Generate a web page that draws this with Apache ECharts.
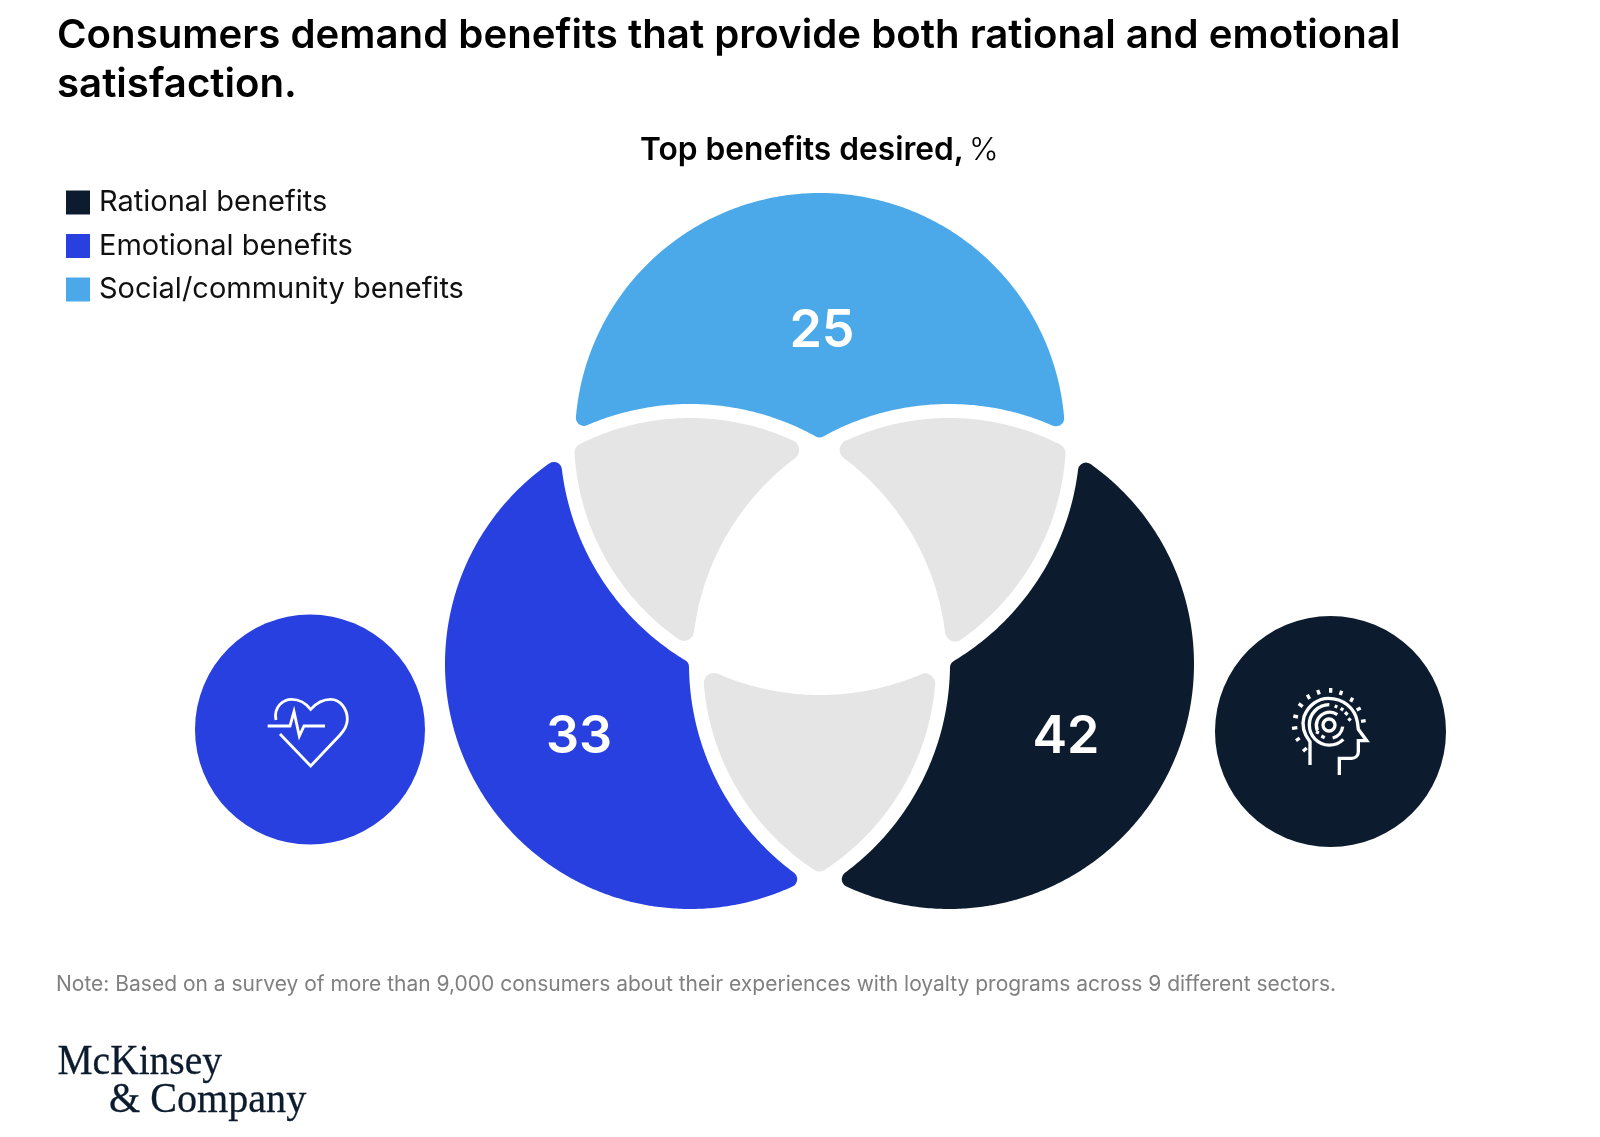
<!DOCTYPE html>
<html><head><meta charset="utf-8">
<style>html,body{margin:0;padding:0;background:#fff}#c{width:1600px;height:1137px}</style>
<script src="https://cdn.jsdelivr.net/npm/echarts@6/dist/echarts.min.js"></script>
</head><body><div id="c"></div>
<script>
// ---- data ----
const benefitNames = ['Rational benefits', 'Emotional benefits', 'Social/community benefits'];
const benefitValues = [42, 33, 25];
const benefitColors = ['#0C1C2E', '#2740DF', '#4BA9EA'];
const overlapColor = '#E5E5E5';

const titleText = 'Consumers demand benefits that provide both rational and emotional\nsatisfaction.';
const subtitleBold = 'Top benefits desired,';
const subtitleUnit = '%';
const noteText = 'Note: Based on a survey of more than 9,000 consumers about their experiences with loyalty programs across 9 different sectors.';
const logoLine1 = 'McKinsey';
const logoLine2 = '& Company';

// ---- Venn layout (page units) ----
const R = 245, EXCL = 260, EXCL_GRAY = 257, CORNER = 8, CORNER_GRAY = 10;
const circles = [{x: 949, y: 664}, {x: 690, y: 664}, {x: 820, y: 438}]; // rational, emotional, social
const labelPos = [[1066, 737], [579, 737], [822, 331.5]];
const iconDisc = [{x: 1330.5, y: 731.5, r: 115.5, color: 0}, {x: 310, y: 729.5, r: 115, color: 1}];

function regionPolygon(inside, outside, excl, corner) {
  const cons = [];
  inside.forEach(i => cons.push({x: circles[i].x, y: circles[i].y, r: R - corner + (excl === EXCL ? 0 : 1), inn: true}));
  outside.forEach(i => cons.push({x: circles[i].x, y: circles[i].y, r: excl + corner, inn: false}));
  const ok = (p, skip) => cons.every((c, k) => {
    if (k === skip) return true;
    const d = Math.hypot(p[0] - c.x, p[1] - c.y);
    return c.inn ? d < c.r : d > c.r;
  });
  const arcs = [];
  cons.forEach((c, i) => {
    const ang = [];
    cons.forEach((o, j) => {
      if (i === j) return;
      const dx = o.x - c.x, dy = o.y - c.y, d = Math.hypot(dx, dy);
      const a = (c.r * c.r - o.r * o.r + d * d) / (2 * d);
      if (Math.abs(a) > c.r) return;
      const b = Math.atan2(dy, dx), de = Math.acos(a / c.r);
      ang.push(b - de, b + de);
    });
    const norm = ang.map(a => ((a % (2 * Math.PI)) + 2 * Math.PI) % (2 * Math.PI)).sort((a, b) => a - b);
    norm.forEach((a0, k) => {
      let a1 = k + 1 < norm.length ? norm[k + 1] : norm[0] + 2 * Math.PI;
      const m = (a0 + a1) / 2;
      if (!ok([c.x + c.r * Math.cos(m), c.y + c.r * Math.sin(m)], i)) return;
      const n = Math.max(2, Math.ceil((a1 - a0) / 0.01));
      const pts = [];
      for (let s = 0; s <= n; s++) {
        const t = a0 + (a1 - a0) * s / n;
        pts.push([c.x + c.r * Math.cos(t), c.y + c.r * Math.sin(t)]);
      }
      if (!c.inn) pts.reverse();
      arcs.push(pts);
    });
  });
  const out = arcs.shift().slice();
  while (arcs.length) {
    const e = out[out.length - 1];
    let best = 0, bd = Infinity;
    arcs.forEach((a, i) => {
      const d = Math.hypot(a[0][0] - e[0], a[0][1] - e[1]);
      if (d < bd) { bd = d; best = i; }
    });
    out.push(...arcs.splice(best, 1)[0]);
  }
  return out;
}

const colorRegions = [
  regionPolygon([0], [1, 2], EXCL, CORNER),
  regionPolygon([1], [0, 2], EXCL, CORNER),
  regionPolygon([2], [0, 1], EXCL, CORNER)
];
const grayRegions = [
  regionPolygon([1, 2], [0], EXCL_GRAY, CORNER_GRAY),
  regionPolygon([0, 2], [1], EXCL_GRAY, CORNER_GRAY),
  regionPolygon([0, 1], [2], EXCL_GRAY, CORNER_GRAY)
];

// ---- icons (local units, 3 per page px) ----
const heartLines = 'M168 210 C160 170 190 148 215 148 C240 148 258 160 272 178 C288 160 305 148 332 148 C362 148 382 178 382 208 C382 228 372 242 360 255 L272 348 L180 252 M143 228 L210 228 L222 185 L238 258 L252 228 L315 228';
const headLines = 'M150 285 L150 215 C130 190 125 165 132 140 C145 105 175 85 205 85 C250 85 285 115 292 155 L295 178 L320 212 L295 212 L295 245 C295 258 285 265 275 265 L238 265 L238 315 ' +
  'M225 165 A18 18 0 1 1 189 165 A18 18 0 1 1 225 165 ' +
  'M172 182 A40 40 0 0 1 232 134 M248 170 A40 40 0 0 1 218 204 ' +
  'M250 208 A60 60 0 0 1 148 165 A60 60 0 0 1 208 104';
const headTicks = 'M212 54 L212 68 M245 62 L241 75 M278 83 L272 95 M302 114 L290 120 M317 152 L303 154 M96 175 L112 173 M100 138 L114 141 ' +
  'M116 101 L128 110 M142 74 L149 87 M173 60 L178 73 M108 212 L119 204 M129 244 L140 234 ' +
  'M224 108 L232 111 M242 115 L250 120 M255 127 L263 134 M265 145 L272 152 M168 185 L177 189 M184 198 L194 203';

const ICON = [
  {disc: 0, ox: 1260, oy: 670, paths: [[headLines, 10], [headTicks, 10]]},
  {disc: 1, ox: 220, oy: 650, paths: [[heartLines, 8.5]]}
];

function polygonEl(api, pts, color, corner) {
  return {
    type: 'polygon',
    shape: {points: pts.map(p => api.coord(p))},
    style: {fill: color, stroke: color, lineWidth: corner * 2, lineJoin: 'round'}
  };
}

const series = benefitNames.map((name, i) => ({
  type: 'custom',
  name,
  coordinateSystem: 'cartesian2d',
  itemStyle: {color: benefitColors[i]},
  data: [[0, 0]],
  silent: true,
  clip: false,
  renderItem(params, api) {
    const lp = api.coord(labelPos[i]);
    return {
      type: 'group',
      children: [
        polygonEl(api, colorRegions[i], benefitColors[i], CORNER),
        {
          type: 'text', x: lp[0], y: lp[1],
          style: {
            text: String(benefitValues[i]), fill: '#fff', fontSize: 52, fontWeight: 600,
            fontFamily: 'Inter', align: 'center', verticalAlign: 'middle'
          }
        }
      ]
    };
  }
}));

series.push({
  type: 'custom',
  name: 'Overlap',
  coordinateSystem: 'cartesian2d',
  data: grayRegions.map(() => [0, 0]),
  silent: true,
  clip: false,
  renderItem(params, api) {
    return polygonEl(api, grayRegions[params.dataIndex], overlapColor, CORNER_GRAY);
  }
});

series.push({
  type: 'custom',
  name: 'Icons',
  coordinateSystem: 'cartesian2d',
  data: ICON.map(() => [0, 0]),
  silent: true,
  clip: false,
  renderItem(params, api) {
    const ic = ICON[params.dataIndex], d = iconDisc[ic.disc];
    const c = api.coord([d.x, d.y]), o = api.coord([ic.ox, ic.oy]);
    return {
      type: 'group',
      children: [
        {type: 'circle', shape: {cx: c[0], cy: c[1], r: d.r}, style: {fill: benefitColors[d.color]}},
        {
          type: 'group', x: o[0], y: o[1], scaleX: 1 / 3, scaleY: 1 / 3,
          children: ic.paths.map(p => ({
            type: 'path',
            shape: {pathData: p[0]},
            style: {fill: 'none', stroke: '#fff', lineWidth: p[1], lineJoin: 'miter', lineCap: 'butt'}
          }))
        }
      ]
    };
  }
});

const chart = echarts.init(document.getElementById('c'), null, {renderer: 'canvas', width: 1600, height: 1137});
chart.setOption({
  animation: false,
  backgroundColor: '#fff',
  grid: {left: 0, right: 0, top: 0, bottom: 0},
  xAxis: {type: 'value', min: 0, max: 1600, show: false},
  yAxis: {type: 'value', min: 0, max: 1137, inverse: true, show: false},
  title: [
    {text: titleText, left: 57, top: 11, padding: 0,
      textStyle: {fontFamily: 'Inter', fontSize: 40.2, fontWeight: 600, color: '#000', lineHeight: 49}},
    {text: '{b|' + subtitleBold + '} {l|' + subtitleUnit + '}', left: 640, top: 134, padding: 0,
      textStyle: {rich: {
        b: {fontFamily: 'Inter', fontSize: 31.7, fontWeight: 600, color: '#000'},
        l: {fontFamily: 'Inter', fontSize: 31.7, fontWeight: 300, color: '#000'}
      }}},
    {text: noteText, left: 56, top: 974, padding: 0,
      textStyle: {fontFamily: 'Inter', fontSize: 21, fontWeight: 400, color: '#808080'}}
  ],
  graphic: [
    {type: 'text', x: 57.5, y: 1042, scaleX: 0.94,
      style: {text: logoLine1, fontFamily: 'Liberation Serif', fontSize: 42, fill: '#0C1C2E', stroke: '#0C1C2E', lineWidth: 0.3}},
    {type: 'text', x: 109, y: 1080, scaleX: 0.955,
      style: {text: logoLine2, fontFamily: 'Liberation Serif', fontSize: 42, fill: '#0C1C2E', stroke: '#0C1C2E', lineWidth: 0.3}}
  ],
  legend: {
    data: benefitNames,
    orient: 'vertical', left: 66, top: 188, padding: 0,
    icon: 'rect', itemWidth: 24, itemHeight: 24, itemGap: 14.5,
    selectedMode: false,
    textStyle: {fontFamily: 'Inter', fontSize: 29, fontWeight: 400, color: '#111', padding: [8, 0, 0, 4]}
  },
  series
});
</script></body></html>
